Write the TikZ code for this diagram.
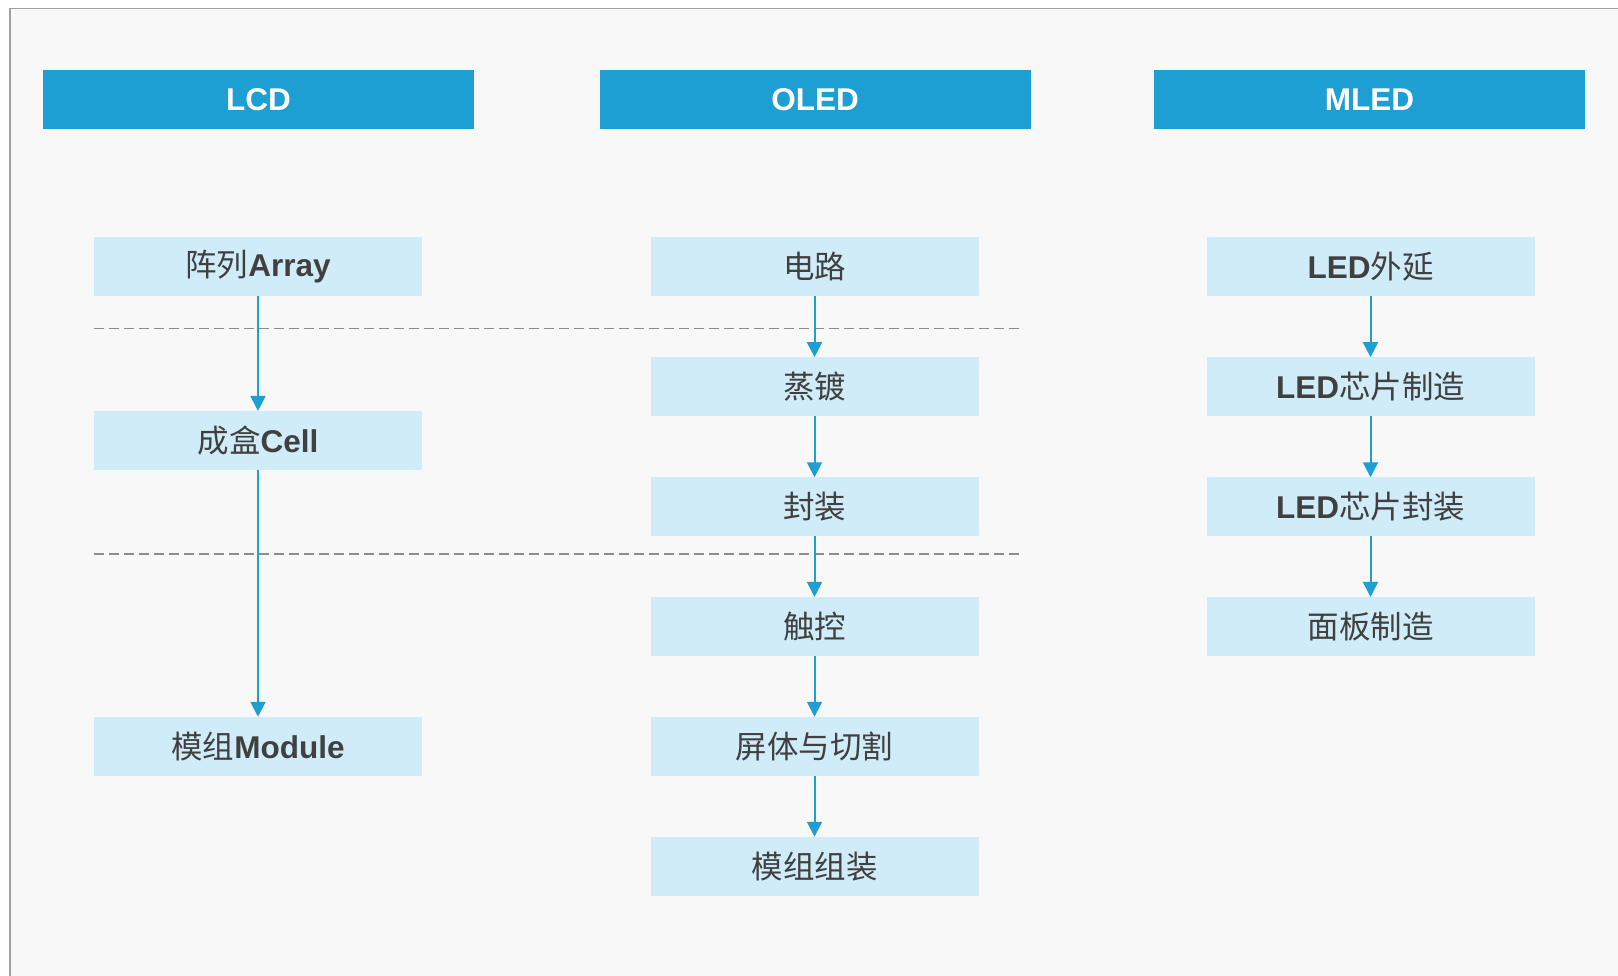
\documentclass[tikz,border=0pt]{standalone}
\usepackage{fontspec}
\setmainfont{Liberation Sans}
\newfontfamily\cjk{Noto Sans CJK SC}
\usetikzlibrary{arrows.meta}
\definecolor{headblue}{HTML}{1E9FD4}
\definecolor{nodefill}{HTML}{D0ECF8}
\definecolor{textgray}{HTML}{404040}
\definecolor{bggray}{HTML}{F8F8F8}
\definecolor{framegray}{HTML}{A0A0A0}
\definecolor{dashgray}{HTML}{8C8C8C}
\tikzset{
  header/.style={fill=headblue, draw=none, minimum width=431pt, minimum height=58.7pt, inner sep=0pt, text=white, font=\fontsize{31.5}{36}\selectfont\bfseries},
  stepbox/.style={fill=nodefill, draw=none, minimum width=328pt, minimum height=58.7pt, inner sep=0pt, text=textgray, font=\fontsize{31.5}{36}\selectfont},
  flow/.style={draw=headblue, line width=2pt, -{Triangle[width=15pt,length=15pt]}},
  sep/.style={draw=dashgray, line width=1.2pt, dash pattern=on 10pt off 5pt},
}
\newcommand{\zh}[1]{{\cjk #1}}
\newcommand{\en}[1]{\textbf{#1}}
\begin{document}
\begin{tikzpicture}[x=1pt,y=-1pt]
\useasboundingbox (0,0) rectangle (1618,976);
\fill[white] (0,0) rectangle (1618,976);
\fill[bggray] (10,8.5) rectangle (1618,976);
\draw[framegray, line width=1.2pt] (10,976) -- (10,8.5) -- (1618,8.5);

% headers
\node[header] (hl) at (258.5,99.3) {LCD};
\node[header] (ho) at (815,99.3) {OLED};
\node[header] (hm) at (1369.5,99.3) {MLED};

% separators
\coordinate (s1a) at (94,328.3);
\coordinate (s1b) at (1021,328.3);
\coordinate (s2a) at (94,554);
\coordinate (s2b) at (1021,554);
\draw[sep] (s1a) -- (s1b);
\draw[sep] (s2a) -- (s2b);

% LCD
\node[stepbox] (l1) at (258,266.5) {\zh{阵列}\en{Array}};
\node[stepbox] (l2) at (258,440.5) {\zh{成盒}\en{Cell}};
\node[stepbox] (l3) at (258,746.3) {\zh{模组}\en{Module}};

% OLED
\node[stepbox] (o1) at (814.5,266.5) {\zh{电路}};
\node[stepbox] (o2) at (814.5,386.7) {\zh{蒸镀}};
\node[stepbox] (o3) at (814.5,506.8) {\zh{封装}};
\node[stepbox] (o4) at (814.5,626.5) {\zh{触控}};
\node[stepbox] (o5) at (814.5,746.3) {\zh{屏体与切割}};
\node[stepbox] (o6) at (814.5,866.3) {\zh{模组组装}};

% MLED
\node[stepbox] (m1) at (1370.5,266.5) {\en{LED}\zh{外延}};
\node[stepbox] (m2) at (1370.5,386.7) {\en{LED}\zh{芯片制造}};
\node[stepbox] (m3) at (1370.5,506.8) {\en{LED}\zh{芯片封装}};
\node[stepbox] (m4) at (1370.5,626.5) {\zh{面板制造}};

% arrows
\draw[flow] (l1) -- (l2);
\draw[flow] (l2) -- (l3);
\draw[flow] (o1) -- (o2);
\draw[flow] (o2) -- (o3);
\draw[flow] (o3) -- (o4);
\draw[flow] (o4) -- (o5);
\draw[flow] (o5) -- (o6);
\draw[flow] (m1) -- (m2);
\draw[flow] (m2) -- (m3);
\draw[flow] (m3) -- (m4);
\end{tikzpicture}
\end{document}
